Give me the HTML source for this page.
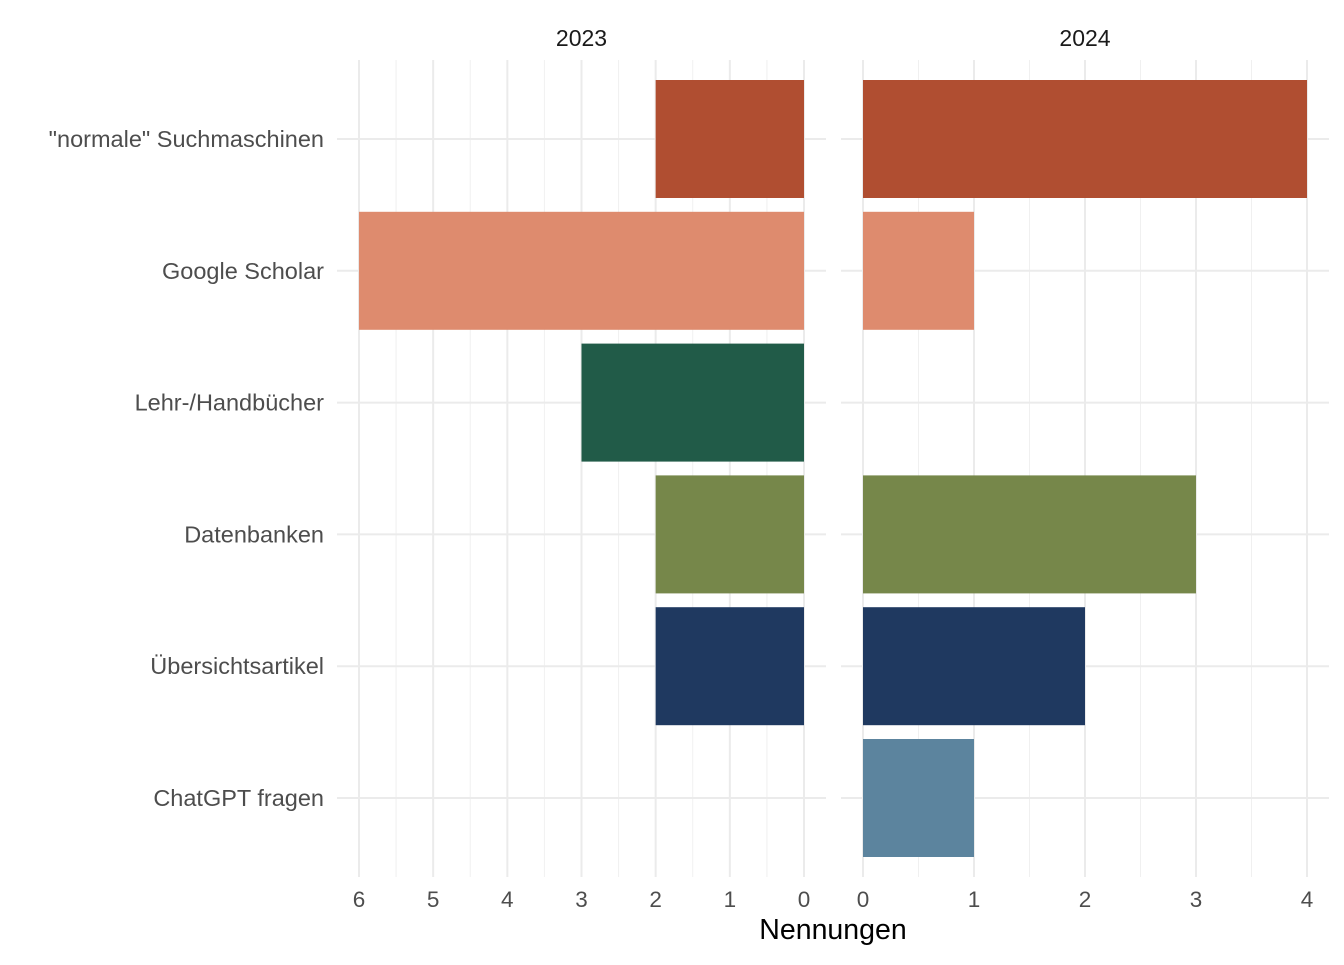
<!DOCTYPE html>
<html><head><meta charset="utf-8"><style>
body{margin:0;background:#fff;}
svg text{font-family:"Liberation Sans",sans-serif;}
</style></head><body>
<svg id="chart" width="1344" height="960" xmlns="http://www.w3.org/2000/svg"></svg>
<script>
const categories = ['"normale" Suchmaschinen','Google Scholar','Lehr-/Handbücher','Datenbanken','Übersichtsartikel','ChatGPT fragen'];
const values2023 = [2,6,3,2,2,0];
const values2024 = [4,1,0,3,2,1];
const colors = ['#B04E31','#DE8B6E','#215B48','#76874A','#1F3960','#5C849E'];
const ticks2023 = [0,1,2,3,4,5,6];
const ticks2024 = [0,1,2,3,4];
const NS='http://www.w3.org/2000/svg';
const svg=document.getElementById('chart');
function mk(t,a,p){const e=document.createElementNS(NS,t);for(const k in a)e.setAttribute(k,a[k]);(p||svg).appendChild(e);return e;}
const topY=60,bottomY=877,band=131.8;
const yC=i=>139+band*i;
const xL=v=>804-v*74.17;
const xR=v=>863+v*111;
const panels=[{name:'2023',x:xL,vals:values2023,ticks:ticks2023,x0:337,x1:826,max:6},{name:'2024',x:xR,vals:values2024,ticks:ticks2024,x0:841,x1:1329,max:4}];
panels.forEach(p=>{
  const g=mk('g',{});
  
  
  for(let v=0.5;v<p.max;v+=1){mk('line',{x1:p.x(v),x2:p.x(v),y1:topY,y2:bottomY,stroke:'#f0f0f0','stroke-width':1},g);}
  p.ticks.forEach(v=>{mk('line',{x1:p.x(v),x2:p.x(v),y1:topY,y2:bottomY,stroke:'#ebebeb','stroke-width':2},g);
    const t=mk('text',{x:p.x(v),y:907,'text-anchor':'middle','font-size':22.5,fill:'#4d4d4d'},g);t.textContent=v;
    
    });
  categories.forEach((c,i)=>mk('line',{x1:p.x0,x2:p.x1,y1:yC(i),y2:yC(i),stroke:'#ebebeb','stroke-width':2},g));
  p.vals.forEach((v,i)=>{if(v<=0)return;const a=p.x(0),b=p.x(v);
    const r=mk('rect',{x:Math.min(a,b),y:yC(i)-59,width:Math.abs(b-a),height:118,fill:colors[i]},g);
    
    });
  const t=mk('text',{x:(p.x0+p.x1)/2,y:46,'text-anchor':'middle','font-size':23,fill:'#1a1a1a'},g);t.textContent=p.name;
  
  
});
categories.forEach((c,i)=>{const t=mk('text',{x:324,y:yC(i)+8,'text-anchor':'end','font-size':23.5,fill:'#4d4d4d'});t.textContent=c;
  
  });
const xt=mk('text',{x:833,y:939,'text-anchor':'middle','font-size':28.5,fill:'#000'});xt.textContent='Nennungen';


</script>
</body></html>
